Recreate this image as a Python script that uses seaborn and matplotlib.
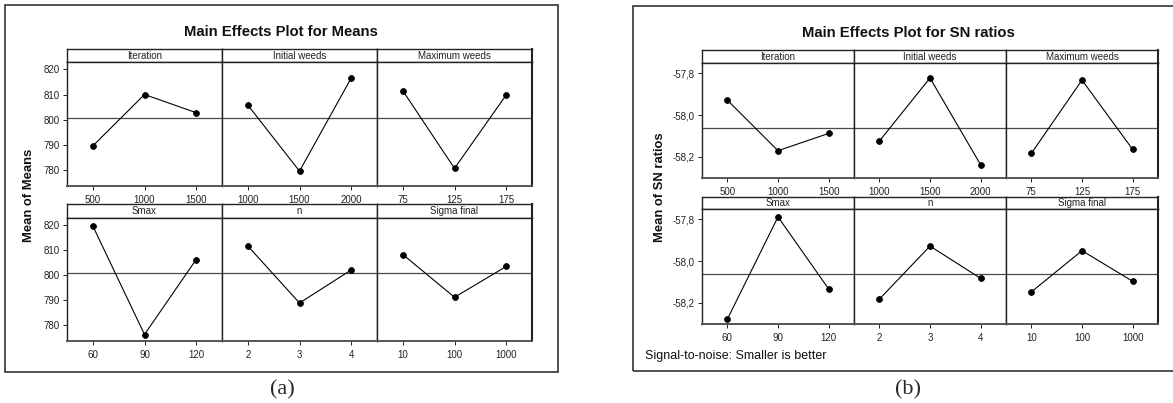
import numpy as np
import pandas as pd
import matplotlib
matplotlib.use("Agg")
import matplotlib.pyplot as plt
import matplotlib.patches as patches
from matplotlib.ticker import FuncFormatter
import seaborn as sns

# factor names and their levels (same in both panels)
factors = ["Iteration", "Initial weeds", "Maximum weeds", "Smax", "n", "Sigma final"]
levels = {
    "Iteration": ["500", "1000", "1500"],
    "Initial weeds": ["1000", "1500", "2000"],
    "Maximum weeds": ["75", "125", "175"],
    "Smax": ["60", "90", "120"],
    "n": ["2", "3", "4"],
    "Sigma final": ["10", "100", "1000"],
}

# panel (a): mean of means
means_iteration = [789.6, 810.0, 802.8]
means_initial = [805.8, 779.6, 816.5]
means_maximum = [811.5, 780.7, 809.8]
means_smax = [819.7, 776.3, 806.3]
means_n = [811.7, 788.9, 802.1]
means_sigma = [808.3, 791.2, 803.5]

# panel (b): mean of SN ratios
sn_iteration = [-57.928, -58.171, -58.088]
sn_initial = [-58.125, -57.822, -58.239]
sn_maximum = [-58.184, -57.832, -58.165]
sn_smax = [-58.279, -57.788, -58.134]
sn_n = [-58.183, -57.928, -58.083]
sn_sigma = [-58.148, -57.950, -58.097]

means_ticks = [780, 790, 800, 810, 820]
sn_ticks = [-58.2, -58.0, -57.8]


def long_table(series):
    rows = []
    for f, vals in zip(factors, series):
        for lev, v in zip(levels[f], vals):
            rows.append({"factor": f, "level": lev, "value": v})
    return pd.DataFrame(rows)


df_means = long_table([means_iteration, means_initial, means_maximum,
                       means_smax, means_n, means_sigma])
df_sn = long_table([sn_iteration, sn_initial, sn_maximum,
                    sn_smax, sn_n, sn_sigma])

sns.set_style("ticks")
plt.rcParams["font.family"] = ["Liberation Sans", "DejaVu Sans"]

W, H = 1173, 403
fig = plt.figure(figsize=(W / 100, H / 100), dpi=100)


def px_axes(x0, y0, x1, y1):
    return fig.add_axes([x0 / W, 1 - y1 / H, (x1 - x0) / W, (y1 - y0) / H])


def draw_panel(df, cols, rows, ylim, yticks, fmt, title, ylabel, title_xy, ylab_x):
    mean_all = df["value"].mean()
    for i, f in enumerate(factors):
        r, c = divmod(i, 3)
        x0, x1 = cols[c], cols[c + 1]
        hy0, hy1, py1 = rows[r]
        # header strip
        hax = px_axes(x0, hy0, x1, hy1)
        hax.set_xticks([])
        hax.set_yticks([])
        for s in hax.spines.values():
            s.set_linewidth(1.0)
            s.set_color("#222222")
        hax.text(0.5, 0.48, f, ha="center", va="center", fontsize=7,
                 color="#222222", transform=hax.transAxes)
        # plot area
        ax = px_axes(x0, hy1, x1, py1)
        sub = df[df["factor"] == f]
        sns.pointplot(data=sub, x="level", y="value", order=levels[f],
                      color="black", errorbar=None, markersize=4.2,
                      linewidth=0.8, ax=ax)
        ax.axhline(mean_all, color="#4a4a4a", lw=0.9, zorder=0)
        ax.set_xlim(-0.5, 2.5)
        ax.set_ylim(*ylim)
        ax.set_xlabel("")
        ax.set_ylabel("")
        ax.set_yticks(yticks)
        ax.yaxis.set_major_formatter(FuncFormatter(fmt))
        ax.tick_params(axis="both", direction="out", length=3, width=0.7,
                       labelsize=7, pad=2, colors="#222222")
        ax.tick_params(axis="x", pad=3.5)
        if c != 0:
            ax.tick_params(axis="y", left=False, labelleft=False)
        for s in ax.spines.values():
            s.set_linewidth(1.0)
            s.set_color("#222222")
        if c == 2:
            ax.spines["right"].set_linewidth(1.5)
            hax.spines["right"].set_linewidth(1.5)
        ax.spines["bottom"].set_linewidth(1.4)
        ax.spines["bottom"].set_color("#555555")
    fig.text(title_xy[0] / W, 1 - title_xy[1] / H, title, ha="center",
             va="center", fontsize=10.7, fontweight="bold", color="#111111")
    ymid = (rows[0][2] + rows[1][0]) / 2
    fig.text(ylab_x / W, 1 - ymid / H, ylabel, ha="center", va="center",
             rotation=90, fontsize=9.4, fontweight="bold", color="#111111")


# panel frames
fig.add_artist(patches.Rectangle((5 / W, 1 - 372 / H), 553 / W, 367 / H,
                                 transform=fig.transFigure, fill=False,
                                 ec="#333333", lw=1.2))
fig.add_artist(patches.Rectangle((633 / W, 1 - 371 / H), 560 / W, 365 / H,
                                 transform=fig.transFigure, fill=False,
                                 ec="#333333", lw=1.2))

draw_panel(df_means, [67, 222, 377, 532],
           [(49, 62, 186), (204, 218, 341)],
           (773.7, 822.9), means_ticks, lambda v, _: f"{v:.0f}",
           "Main Effects Plot for Means", "Mean of Means", (281, 32), 29)

draw_panel(df_sn, [702, 854, 1006, 1158],
           [(50, 63, 178), (197, 209, 324)],
           (-58.302, -57.75), sn_ticks,
           lambda v, _: f"{v:.1f}".replace(".", ","),
           "Main Effects Plot for SN ratios", "Mean of SN ratios", (908, 33), 660)

fig.text(645 / W, 1 - 356 / H, "Signal-to-noise: Smaller is better",
         ha="left", va="center", fontsize=9, color="#111111")

fig.text(282 / W, 1 - 390 / H, "(a)", ha="center", va="center",
         fontsize=16, family="Liberation Serif")
fig.text(908 / W, 1 - 390 / H, "(b)", ha="center", va="center",
         fontsize=16, family="Liberation Serif")

fig.savefig("out.png", dpi=100)
